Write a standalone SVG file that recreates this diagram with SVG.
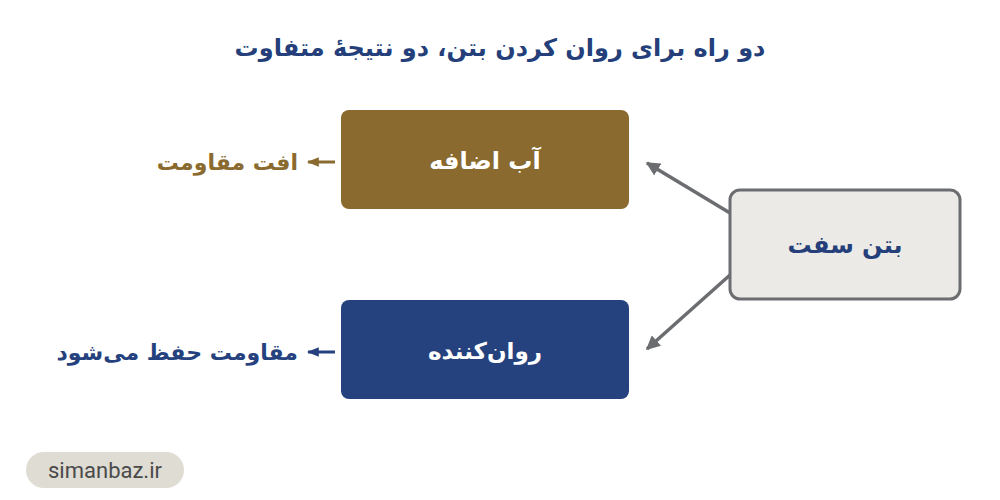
<svg xmlns="http://www.w3.org/2000/svg" width="1000" height="500" viewBox="0 0 1000 500">
<defs>
<style>
.fa{font-family:"DejaVu Sans",sans-serif;font-weight:bold}
.title{font-size:24px;fill:#243f7a}
.nodetext{font-size:24px;fill:#ffffff}
.label{font-size:22px}
.conn{stroke:#6b6d70;stroke-width:3.5;fill:none}
</style>
<marker id="ah" viewBox="0 0 10 10" refX="9" refY="5" markerWidth="4" markerHeight="4" orient="auto" markerUnits="strokeWidth">
<path d="M0,0 L10,5 L0,10 z" fill="#6b6d70"/>
</marker>
<marker id="ahBrown" viewBox="0 0 10 10" refX="9" refY="5" markerWidth="4" markerHeight="4" orient="auto" markerUnits="strokeWidth">
<path d="M0,1 L10,5 L0,9 z" fill="#8a6a2e"/>
</marker>
<marker id="ahBlue" viewBox="0 0 10 10" refX="9" refY="5" markerWidth="4" markerHeight="4" orient="auto" markerUnits="strokeWidth">
<path d="M0,1 L10,5 L0,9 z" fill="#25417e"/>
</marker>
</defs>
<rect width="1000" height="500" fill="#ffffff"/>
<text class="fa title" x="500" y="56" text-anchor="middle">دو راه برای روان کردن بتن، دو نتیجهٔ متفاوت</text>

<g id="connectors">
<line class="conn" x1="730" y1="213" x2="647" y2="163" marker-end="url(#ah)"/>
<line class="conn" x1="730" y1="275" x2="647" y2="349" marker-end="url(#ah)"/>
<line x1="335" y1="162" x2="308" y2="162" stroke="#8a6a2e" stroke-width="3" marker-end="url(#ahBrown)"/>
<line x1="335" y1="352" x2="308" y2="352" stroke="#25417e" stroke-width="3" marker-end="url(#ahBlue)"/>
</g>

<g id="node-water">
<rect x="341" y="110" width="288" height="99" rx="8" fill="#8a6a2e"/>
<text class="fa nodetext" x="485" y="169" text-anchor="middle">آب اضافه</text>
</g>
<g id="node-plasticizer">
<rect x="341" y="300" width="288" height="99" rx="8" fill="#25417e"/>
<text class="fa nodetext" font-size="23" x="485" y="359" text-anchor="middle" style="font-size:23px">روان‌کننده</text>
</g>
<g id="node-stiff">
<rect x="730" y="190" width="230" height="109" rx="10" fill="#ebeae6" stroke="#6b6d70" stroke-width="3"/>
<text class="fa" x="845" y="253" text-anchor="middle" font-size="24" fill="#243f7a">بتن سفت</text>
</g>
<g id="label-loss">
<text class="fa label" x="298" y="170" text-anchor="end" fill="#8a6a2e">افت مقاومت</text>
</g>
<g id="label-keep">
<text class="fa label" x="298" y="360" text-anchor="end" fill="#25417e">مقاومت حفظ می‌شود</text>
</g>
<g id="footer">
<rect x="26" y="452" width="158" height="36" rx="18" fill="#dedcd3"/>
<text x="105" y="478" text-anchor="middle" font-family="Roboto,sans-serif" font-size="22" fill="#4a4a4a">simanbaz.ir</text>
</g>
</svg>
